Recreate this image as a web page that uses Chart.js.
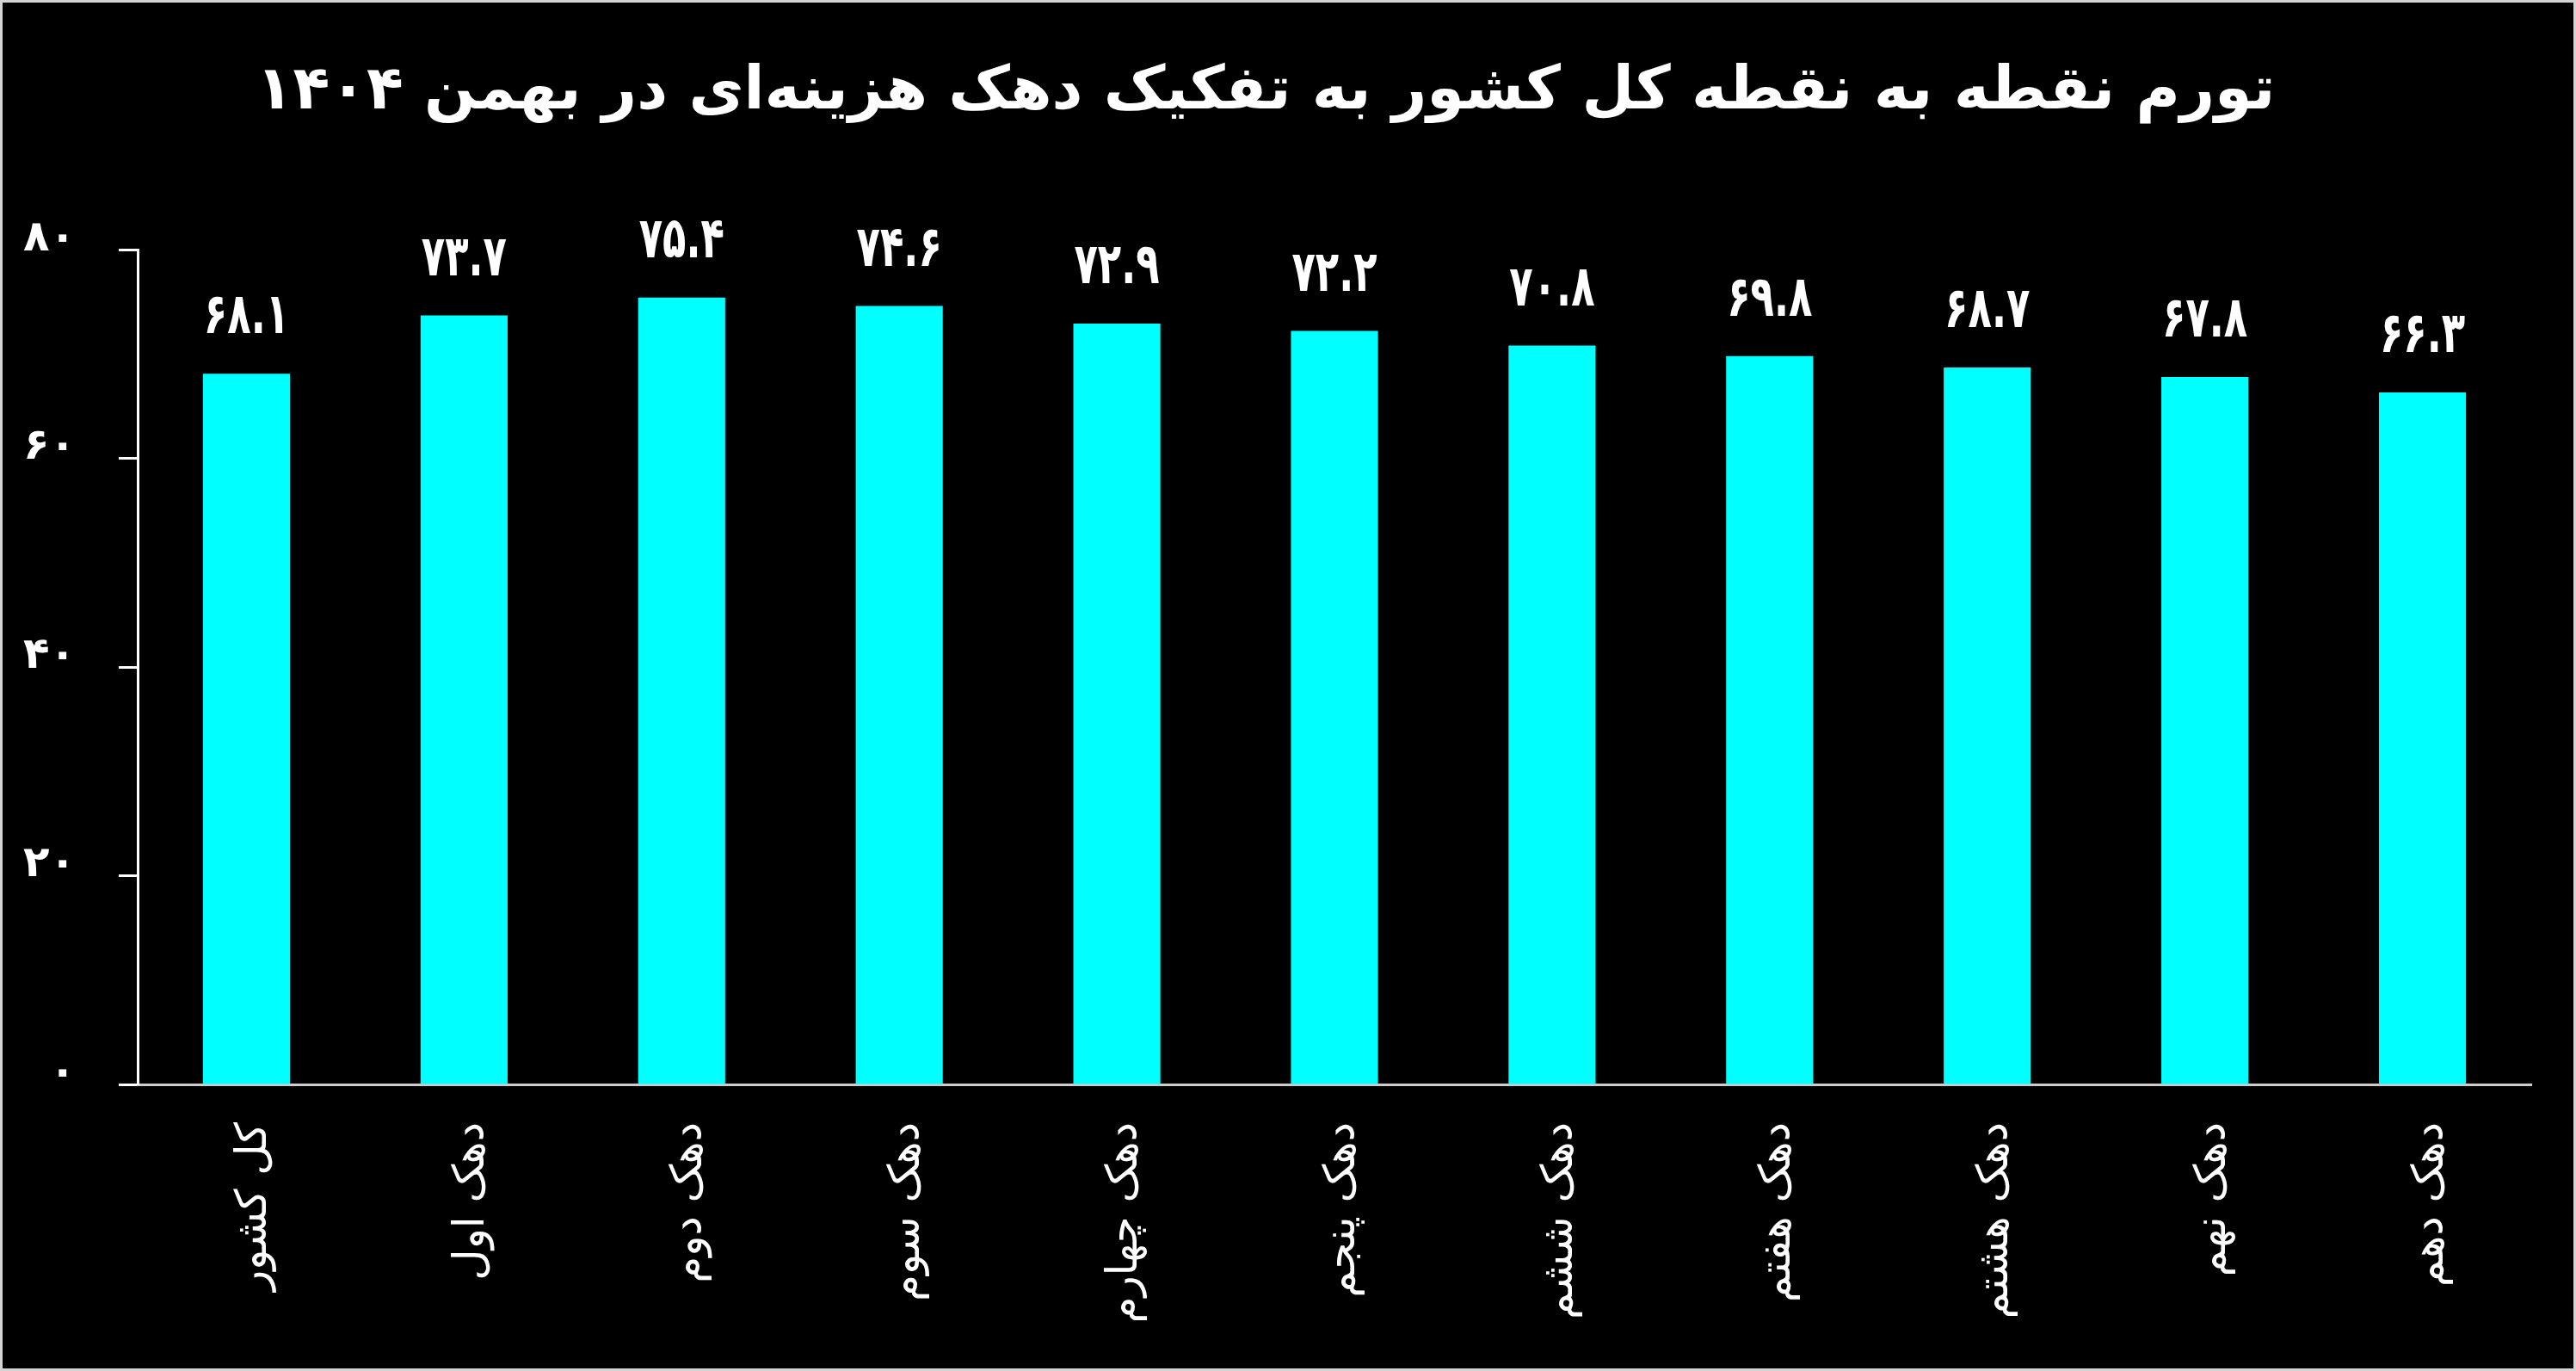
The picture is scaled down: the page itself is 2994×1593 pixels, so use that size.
<!DOCTYPE html>
<html lang="fa">
<head>
<meta charset="utf-8">
<title>تورم نقطه به نقطه دهک‌ها</title>
<script src="https://cdn.jsdelivr.net/npm/chart.js@4.4.1/dist/chart.umd.min.js"></script>
<style>
    html, body { margin: 0; padding: 0; background: #000; }
    #wrap { width: 2994px; height: 1593px; }
</style>
</head>
<body>
<div id="wrap"><canvas id="inflationChart" width="2994" height="1593"></canvas></div>
<script>
// data
const categories = ['کل کشور', 'دهک اول', 'دهک دوم', 'دهک سوم', 'دهک چهارم', 'دهک پنجم',
    'دهک ششم', 'دهک هفتم', 'دهک هشتم', 'دهک نهم', 'دهک دهم'];
const inflation = [68.1, 73.7, 75.4, 74.6, 72.9, 72.2, 70.8, 69.8, 68.7, 67.8, 66.3];
const yTicks = [0, 20, 40, 60, 80];
const chartTitle = 'تورم نقطه به نقطه کل کشور به تفکیک دهک هزینه‌ای در بهمن ۱۴۰۴';

const faDigits = '۰۱۲۳۴۵۶۷۸۹';
function toFa(str) {
    return String(str).replace(/[0-9]/g, d => faDigits[+d]);
}

// black background + thin grey frame
const framePlugin = {
    id: 'frame',
    beforeDraw(chart) {
        const ctx = chart.ctx;
        ctx.save();
        ctx.fillStyle = '#000';
        ctx.fillRect(0, 0, chart.width, chart.height);
        ctx.restore();
    },
    afterDraw(chart) {
        const ctx = chart.ctx;
        ctx.save();
        ctx.strokeStyle = '#d4d4d4';
        ctx.lineWidth = 6;
        ctx.strokeRect(0, 0, chart.width, chart.height);
        ctx.restore();
    }
};

// value labels above each bar (drawn a bit condensed like the original font)
const valueLabels = {
    id: 'valueLabels',
    afterDatasetsDraw(chart) {
        const ctx = chart.ctx;
        const meta = chart.getDatasetMeta(0);
        ctx.save();
        ctx.fillStyle = '#fff';
        ctx.font = 'bold 66px "DejaVu Sans"';
        ctx.textAlign = 'center';
        ctx.textBaseline = 'bottom';
        meta.data.forEach((bar, i) => {
            ctx.save();
            ctx.translate(bar.x, bar.y - 31);
            ctx.scale(0.68, 1);
            ctx.fillText(toFa(inflation[i].toFixed(1)), 0, 0);
            ctx.restore();
        });
        ctx.restore();
    }
};

const ctx = document.getElementById('inflationChart').getContext('2d');
const inflationChart = new Chart(ctx, {
    type: 'bar',
    data: {
        labels: categories,
        datasets: [{
            data: inflation,
            backgroundColor: '#00ffff',
            borderWidth: 0,
            categoryPercentage: 1,
            barPercentage: 0.4
        }]
    },
    options: {
        responsive: false,
        animation: false,
        layout: {
            padding: { left: 0, right: 52, top: 0, bottom: 0 }
        },
        plugins: {
            legend: { display: false },
            tooltip: { enabled: false },
            title: {
                display: true,
                text: chartTitle,
                color: '#fff',
                font: { family: '"DejaVu Sans"', size: 70, weight: 'bold' },
                padding: { top: 66, bottom: 140 }
            }
        },
        scales: {
            x: {
                grid: { display: false, drawTicks: false },
                border: { display: true, color: '#cccccc', width: 3 },
                ticks: {
                    color: '#fff',
                    font: { family: '"DejaVu Sans"', size: 50 },
                    minRotation: 90,
                    maxRotation: 90,
                    padding: 44,
                    labelOffset: 10,
                    autoSkip: false
                },
                afterFit(scale) { scale.height = 333; }
            },
            y: {
                min: 0,
                max: 80,
                afterBuildTicks(scale) {
                    scale.ticks = yTicks.map(v => ({ value: v }));
                },
                grid: {
                    drawOnChartArea: false,
                    drawTicks: true,
                    tickLength: 22,
                    tickWidth: 3,
                    tickColor: '#fff'
                },
                border: { display: true, color: '#fff', width: 3 },
                ticks: {
                    color: '#fff',
                    font: { family: '"DejaVu Sans"', size: 50, weight: 'bold' },
                    padding: 50,
                    labelOffset: -12,
                    callback: v => toFa(v)
                },
                afterFit(scale) { scale.width = 160; }
            }
        }
    },
    plugins: [framePlugin, valueLabels]
});
</script>
</body>
</html>
